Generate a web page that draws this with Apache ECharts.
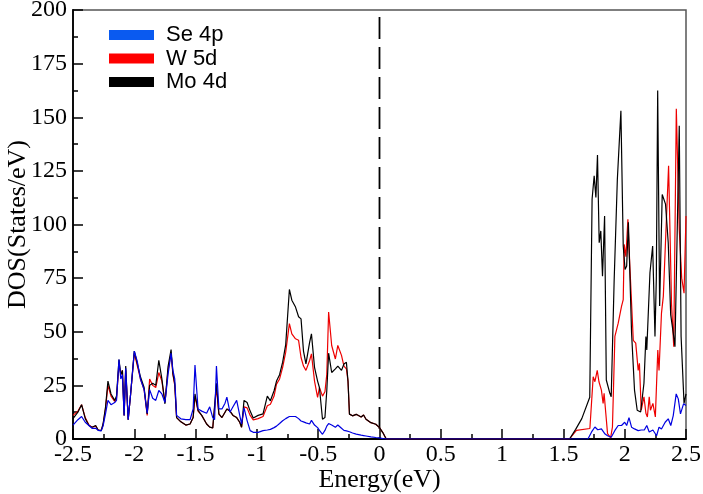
<!DOCTYPE html>
<html>
<head>
<meta charset="utf-8">
<script src="https://cdn.jsdelivr.net/npm/echarts@6/dist/echarts.min.js"></script>
<style>html,body{margin:0;padding:0;background:#fff}#c{width:703px;height:494px}</style>
</head>
<body>
<div id="c"></div>
<script>
// ---- Data ----
const seriesNames = ['Se 4p', 'W 5d', 'Mo 4d'];
const xTickLabels = ['-2.5','-2','-1.5','-1','-0.5','0','0.5','1','1.5','2','2.5'];
const yTickLabels = ['0','25','50','75','100','125','150','175','200'];
const fermiLevel = 0;

// valence region (shared energy grid)
const valE = [-2.50,-2.46,-2.43,-2.40,-2.37,-2.345,-2.315,-2.295,-2.27,-2.255,
  -2.235,-2.215,-2.19,-2.16,-2.145,-2.125,-2.11,-2.097,-2.083,-2.07,
  -2.05,-2.03,-2.0,-1.975,-1.95,-1.92,-1.895,-1.875,-1.85,-1.825,
  -1.80,-1.775,-1.75,-1.725,-1.70,-1.685,-1.67,-1.655,-1.62,-1.58,
  -1.545,-1.52,-1.505,-1.48,-1.45,-1.41,-1.385,-1.36,-1.345,-1.33,
  -1.31,-1.285,-1.26,-1.245,-1.22,-1.195,-1.165,-1.14,-1.125,-1.105,
  -1.08,-1.055,-1.03,-0.99,-0.95,-0.935,-0.915,-0.89,-0.86,-0.84,
  -0.815,-0.79,-0.765,-0.735,-0.715,-0.685,-0.66,-0.64,-0.62,-0.60,
  -0.57,-0.555,-0.53,-0.505,-0.49,-0.465,-0.445,-0.43,-0.415,-0.39,
  -0.36,-0.34,-0.31,-0.29,-0.27,-0.257,-0.245,-0.22,-0.19,-0.15,
  -0.13,-0.11,-0.07,-0.03,0.0,0.027,0.055];
const valMo = [9.5,12.5,16,9.5,6.3,5.5,6.3,4.2,3.9,7,
  14.8,27,21,18,20,37,30,32,11,34,
  9,21,41,35,29,24,11.7,25,26,25,
  36.7,28,16.4,33.6,41.7,30.5,25.8,10,8,6.5,
  7,10,21,13.3,11,7,5.5,5.2,6,26,
  11.7,10,12.5,14,13,11,10,7.8,5.5,18,
  17,13,9.8,11,11.7,12.3,20,17.8,22.5,27,
  30,35.8,44,69.7,64.7,61.5,57,56,41,35,
  45,49,33.4,27,24,9.2,10,22.5,40,31,
  32.7,34,32,35,35.8,27,11.6,10.8,11.5,10.3,
  11.2,9.2,7.6,6.9,5.3,3,0];
const valW = [11,13,16,10,6.5,5.5,6,4.2,4,6.5,
  14,25,20,17.5,19,35,30,32,11,32,
  9,21,40,34,28,23,11,28,25,24,
  31,27,17,32,40,30,25,10,8,6.5,
  7,10,20,13,11,7,5.5,5.2,6,24,
  11.5,10,12.5,14,13,11,10,7.8,5.5,15,
  14.5,11,8.9,9.5,10.5,10.5,15.5,16.2,20,25.6,
  28,33.4,40.5,53.8,49,46.7,46,38,34,32,
  36.6,39.7,27,19.4,24,20,22,30,59.2,43.6,
  37.3,43.6,39,34,32.7,27,11.6,10.8,11.5,10.3,
  11.2,9.2,7.6,6.9,5.3,3,0];
const valSe = [6.5,9,10.5,7.8,6.3,5,5,4,3.8,6,
  11.7,18,16,17,18,37,28,30,11,33,
  9,21,41,36,28,23,12,23,19,18,
  22.6,21,17,30,40,32,28,11,9.4,9,
  9,14,34.5,14,13,12,15,10,9,34,
  14,14,16.7,19.5,12.5,15,18,11,7,14.5,
  8.6,3.9,3.1,3.1,3.9,4,4.2,4.5,5.3,6,
  7.2,8.5,9.5,10.5,10.5,10.5,9.5,8.4,8,7.5,
  7,8.7,6.5,5.3,4,2.2,4,6,7.2,6.5,
  5.5,6.5,5,4,3.8,3.5,3.4,2.8,2.3,1.8,
  1.6,1.4,1,0.7,0.5,0.2,0];

// conduction region
const condMoE = [1.55,1.60,1.65,1.715,1.734,1.751,1.765,1.778,1.792,1.805,
  1.819,1.836,1.85,1.879,1.89,1.914,1.94,1.969,1.988,2.003,
  2.016,2.03,2.056,2.08,2.102,2.13,2.157,2.173,2.18,2.206,
  2.228,2.247,2.258,2.269,2.285,2.306,2.333,2.355,2.375,2.396,
  2.41,2.445,2.46,2.484,2.5];
const condMo = [0,4.5,9.5,19.5,111.8,122.7,112.6,132.4,91.5,97,
  75.9,104,27.5,21.3,19.7,74,121,153,90,79,
  80.6,101,49.4,22.8,13.4,12.6,26,47.8,41.5,77.5,
  90,47.8,75,162.5,62,114,109.5,91.6,58,49.4,
  43,146,47.8,16.6,21];
const condWE = [1.55,1.606,1.716,1.743,1.757,1.776,1.79,1.81,1.824,1.832,
  1.846,1.86,1.885,1.9,1.92,1.947,1.974,1.988,1.996,2.01,
  2.026,2.042,2.056,2.07,2.09,2.11,2.12,2.135,2.157,2.173,
  2.185,2.2,2.21,2.23,2.25,2.27,2.28,2.3,2.315,2.335,
  2.358,2.382,2.4,2.421,2.445,2.465,2.484,2.5];
const condW = [0,4,4.9,29,26.7,32,26.7,22.8,16.6,21.3,
  11.9,2.5,0.5,5.6,47.8,54,61.8,65,90.7,85,
  102.4,80.6,63.4,46,44.7,32,35.3,13.4,19.7,12,
  10.3,19.7,13.4,16.6,10.3,41.5,32,58.7,66.5,95,
  127.4,63,43,154,97.7,75,68,104];
const condSeE = [1.70,1.73,1.757,1.78,1.81,1.84,1.86,1.89,1.92,1.947,
  1.974,2.0,2.016,2.035,2.056,2.08,2.11,2.135,2.16,2.18,
  2.2,2.23,2.26,2.28,2.3,2.33,2.355,2.376,2.396,2.42,
  2.437,2.455,2.48,2.5];
const condSe = [0,3.3,5.6,4.3,4.7,2.3,1.5,0.8,4,6.3,
  6.3,7.8,6.3,10,5.5,4.7,3.9,4.2,4.2,6.3,
  3.3,4.2,1.5,5.5,4.7,7.8,9.4,6.3,10.9,21,
  18.7,11.7,16.4,15.6];

// ---- build ----
function pairs(E, V) { return E.map((e, i) => [e, V[i]]); }
const dataMo = pairs(valE, valMo).concat(pairs(condMoE, condMo));
const dataW  = pairs(valE, valW).concat(pairs(condWE, condW));
const dataSe = pairs(valE, valSe).concat(pairs(condSeE, condSe));

const serif = 'Liberation Serif';
const chart = echarts.init(document.getElementById('c'), null, {renderer: 'canvas'});
function lineSeries(name, data, color, z) {
  return {
    name: name, type: 'line', data: data, showSymbol: false, symbol: 'none',
    color: color, z: z, animation: false,
    lineStyle: {color: color, width: 1.2}
  };
}
const option = {
  animation: false,
  backgroundColor: '#fff',
  grid: {left: 73, right: 17, top: 10, bottom: 55, show: true,
         containLabel: false, outerBoundsMode: 'none',
         borderColor: '#555', borderWidth: 1.5, backgroundColor: 'transparent'},
  legend: {
    orient: 'vertical', left: 104, top: 19, icon: 'rect',
    itemWidth: 45, itemHeight: 10, itemGap: 1.5,
    selectedMode: false,
    textStyle: {fontFamily: 'Liberation Sans', fontSize: 22, color: '#000',
                lineHeight: 20, padding: [0, 0, 0, 7]},
    data: [
      {name: seriesNames[0], itemStyle: {color: '#0a5af0'}},
      {name: seriesNames[1], itemStyle: {color: '#ff0000'}},
      {name: seriesNames[2], itemStyle: {color: '#000000'}}
    ]
  },
  xAxis: {
    type: 'value', min: -2.5, max: 2.5, interval: 0.5,
    name: 'Energy(eV)', nameLocation: 'middle', nameGap: 28, nameMoveOverlap: false,
    nameTextStyle: {fontFamily: serif, fontSize: 26, color: '#000'},
    axisLine: {onZero: false, lineStyle: {color: '#000', width: 1.8}},
    axisTick: {inside: true, length: 10, lineStyle: {color: '#000', width: 1.5}},
    minorTick: {show: true, splitNumber: 2, length: 5, lineStyle: {color: '#000', width: 1.5}},
    splitLine: {show: false},
    axisLabel: {fontFamily: serif, fontSize: 24, color: '#000', margin: 4,
      formatter: function (v) { const i = Math.round((v + 2.5) / 0.5); return xTickLabels[i]; }}
  },
  yAxis: {
    type: 'value', min: 0, max: 200, interval: 25,
    name: 'DOS(States/eV)', nameLocation: 'middle', nameGap: 42, nameMoveOverlap: false,
    nameTextStyle: {fontFamily: serif, fontSize: 26, color: '#000'},
    axisLine: {show: true, onZero: false, lineStyle: {color: '#000', width: 1.8}},
    axisTick: {inside: true, length: 10, lineStyle: {color: '#000', width: 1.5}},
    minorTick: {show: true, splitNumber: 2, length: 5, lineStyle: {color: '#000', width: 1.5}},
    splitLine: {show: false},
    axisLabel: {fontFamily: serif, fontSize: 24, color: '#000', margin: 6,
      formatter: function (v) { return yTickLabels[Math.round(v / 25)]; }}
  },
  series: [
    lineSeries(seriesNames[1], dataW, '#ee0000', 2),
    lineSeries(seriesNames[2], dataMo, '#000000', 3),
    lineSeries(seriesNames[0], dataSe, '#0000e0', 4),
    {
      name: 'Fermi', type: 'line', symbol: 'none', showSymbol: false, z: 1,
      silent: true, animation: false, legendHoverLink: false,
      data: [[fermiLevel, 200], [fermiLevel, 0]],
      lineStyle: {color: '#000', width: 1.8, type: [22, 8], dashOffset: 23}
    }
  ]
};
chart.setOption(option);
</script>
</body>
</html>
